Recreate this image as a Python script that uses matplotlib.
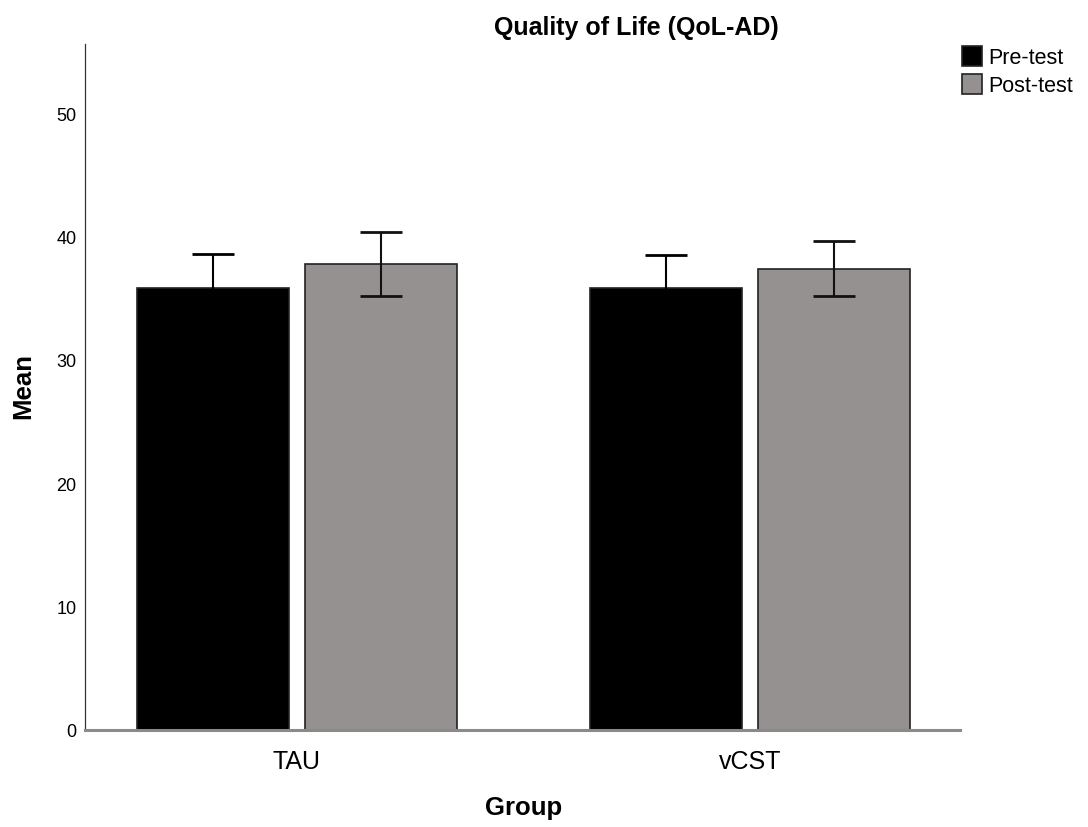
import matplotlib
matplotlib.use("Agg")
import matplotlib.pyplot as plt
import numpy as np
from matplotlib.patches import Patch

groups = ["TAU", "vCST"]
series = ["Pre-test", "Post-test"]
pre_means = [35.8, 35.8]
post_means = [37.8, 37.4]
pre_err = [2.75, 2.73]
post_err = [2.6, 2.22]
yticks = [0, 10, 20, 30, 40, 50]

plt.rcParams['font.family'] = ['Liberation Sans', 'DejaVu Sans']

fig = plt.figure(figsize=(10.88, 8.28), dpi=100)
ax = fig.add_axes([85/1088, 1-731/828, 875/1088, 686/828])

x = np.arange(len(groups))
w = 0.3355
off = 0.185
colors = ["#000000", "#959190"]
ax.bar(x - off, pre_means, w, color=colors[0], edgecolor="#222222", linewidth=1.2, zorder=2)
ax.bar(x + off, post_means, w, color=colors[1], edgecolor="#222222", linewidth=1.2, zorder=2)
ax.errorbar(x - off, pre_means, yerr=pre_err, fmt="none", ecolor="#000000", elinewidth=1.5, capsize=15, capthick=2, zorder=3)
ax.errorbar(x + off, post_means, yerr=post_err, fmt="none", ecolor="#111111", elinewidth=1.5, capsize=15, capthick=2, zorder=3)

ax.set_xlim(-0.468, 1.464)
ax.set_ylim(0, 55.6)
ax.set_xticks(x)
ax.set_xticklabels(groups, fontsize=18)
ax.set_yticks(yticks)
ax.set_yticklabels([str(t) for t in yticks], fontsize=13)
ax.tick_params(axis='both', length=0)
ax.tick_params(axis='y', pad=6)
ax.tick_params(axis='x', pad=14)

for s in ["top", "right"]:
    ax.spines[s].set_visible(False)
ax.spines["left"].set_color("#333333")
ax.spines["left"].set_linewidth(0.9)
ax.spines["bottom"].set_color("#8a8a8a")
ax.spines["bottom"].set_linewidth(2.2)

fig.text(23/1088, 1-386/828, "Mean", fontsize=18.5, fontweight="bold",
         rotation=90, ha="center", va="center")
fig.text(524/1088, 1-808/828, "Group", fontsize=18.5, fontweight="bold",
         ha="center", va="center")

fig.text(636/1088, 1-28/828, "Quality of Life (QoL-AD)", fontsize=18, fontweight="bold",
         ha="center", va="center")

handles = [Patch(facecolor=colors[0], edgecolor="#222222", linewidth=1.2),
           Patch(facecolor=colors[1], edgecolor="#222222", linewidth=1.2)]
fig.legend(handles, series, loc="upper left", bbox_to_anchor=(962/1088, 1-47/828),
           frameon=False, fontsize=15.5, handlelength=0.95, handleheight=1.05,
           handletextpad=0.25, labelspacing=0.25, borderaxespad=0, borderpad=0)

fig.savefig("out.png", dpi=100)
